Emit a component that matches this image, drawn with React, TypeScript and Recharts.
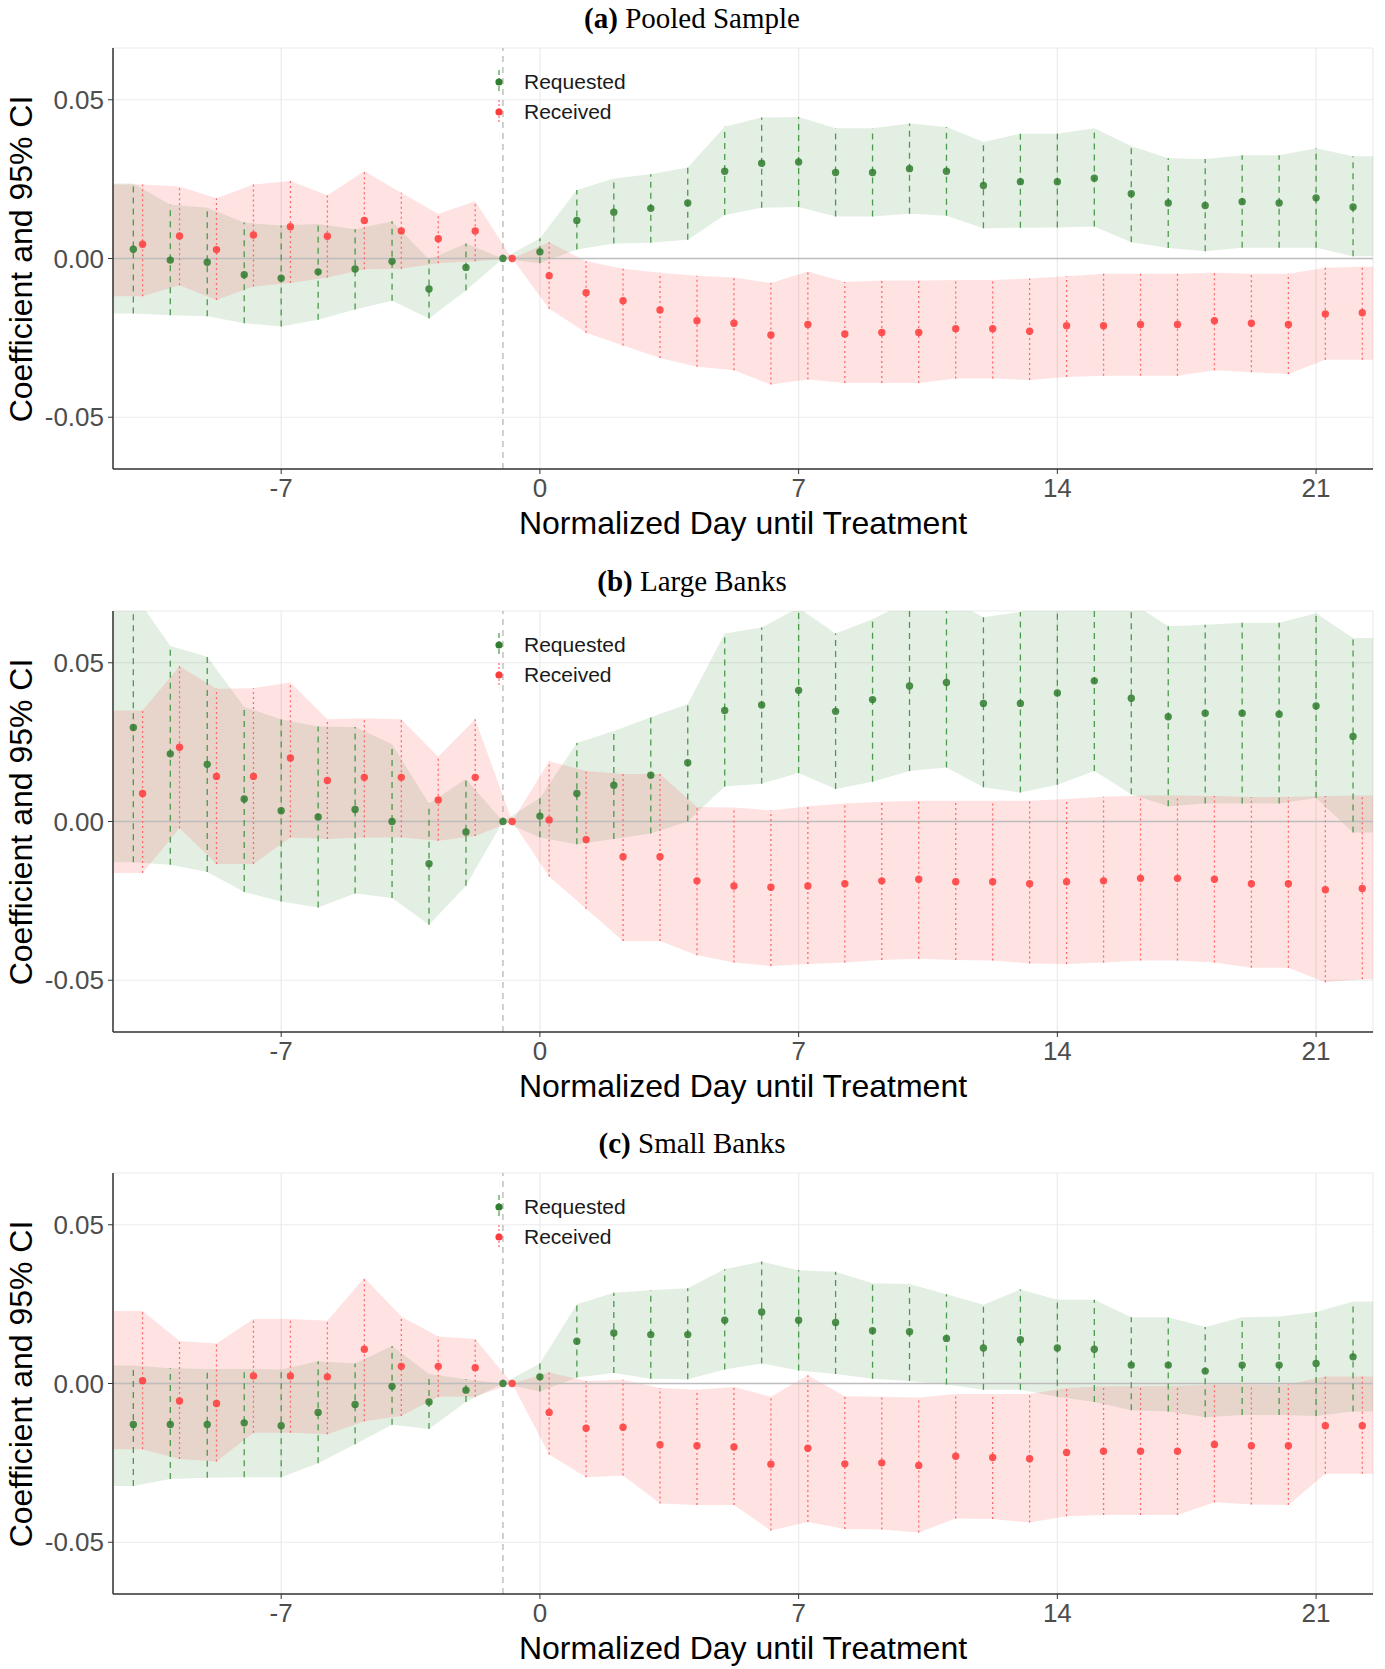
import React from "react";
import {
  ComposedChart,
  Area,
  Scatter,
  XAxis,
  YAxis,
  CartesianGrid,
  ReferenceLine,
} from "recharts";

// days relative to treatment
const days = [
  -11, -10, -9, -8, -7, -6, -5, -4, -3, -2, -1, 0, 1, 2, 3, 4, 5, 6, 7, 8, 9, 10,
  11, 12, 13, 14, 15, 16, 17, 18, 19, 20, 21, 22,
];
const xTicks = [-7, 0, 7, 14, 21];
const yTicks = [-0.05, 0, 0.05];
const seriesNames = ["Requested", "Received"];
const panelTags = ["(a)", "(b)", "(c)"];
const panelTitles = ["Pooled Sample", "Large Banks", "Small Banks"];

// (a) pooled
const reqEstA = [0.0029, -0.0005, -0.0012, -0.0051, -0.0062, -0.0042, -0.0033, -0.0009, -0.0096, -0.0028, 0, 0.0021, 0.012, 0.0146, 0.0158, 0.0175, 0.0275, 0.03, 0.0304, 0.0271, 0.0271, 0.0283, 0.0275, 0.023, 0.0242, 0.0242, 0.0253, 0.0204, 0.0175, 0.0167, 0.0179, 0.0175, 0.0191, 0.0162];
const reqHiA = [0.0236, 0.0169, 0.016, 0.0113, 0.0104, 0.0109, 0.0092, 0.0117, -0.0003, 0.0047, 0, 0.0064, 0.0216, 0.0252, 0.0265, 0.0287, 0.0415, 0.0444, 0.0446, 0.041, 0.041, 0.0425, 0.0414, 0.0367, 0.0393, 0.0393, 0.041, 0.0354, 0.0316, 0.0313, 0.0325, 0.0325, 0.0347, 0.0322];
const reqLoA = [-0.0173, -0.0179, -0.0182, -0.0204, -0.0214, -0.0193, -0.0161, -0.0133, -0.0189, -0.0101, 0, -0.0015, 0.0028, 0.0047, 0.005, 0.0059, 0.0137, 0.016, 0.0162, 0.0132, 0.0132, 0.0141, 0.0135, 0.0095, 0.0097, 0.0098, 0.0101, 0.0051, 0.0033, 0.0023, 0.0034, 0.0034, 0.0034, 0.0007];
const recEstA = [0.0045, 0.0071, 0.0028, 0.0074, 0.01, 0.007, 0.012, 0.0087, 0.0062, 0.0087, 0, -0.0054, -0.0108, -0.0133, -0.0162, -0.0196, -0.0204, -0.0241, -0.0208, -0.0238, -0.0233, -0.0233, -0.0221, -0.0221, -0.0229, -0.0212, -0.0212, -0.0208, -0.0208, -0.0196, -0.0204, -0.0208, -0.0175, -0.0171];
const recHiA = [0.0233, 0.0227, 0.019, 0.0233, 0.0244, 0.0199, 0.0275, 0.0207, 0.014, 0.018, 0, 0.0051, -0.0009, -0.0032, -0.0045, -0.0054, -0.006, -0.0077, -0.0041, -0.0074, -0.0069, -0.0069, -0.0068, -0.0068, -0.0063, -0.0056, -0.0048, -0.0048, -0.0048, -0.0045, -0.0048, -0.0048, -0.0029, -0.0026];
const recLoA = [-0.0119, -0.0084, -0.0131, -0.0088, -0.0077, -0.006, -0.0034, -0.0032, -0.0015, -0.0009, 0, -0.0158, -0.0234, -0.0274, -0.0313, -0.0341, -0.0352, -0.0397, -0.0381, -0.0392, -0.0392, -0.0392, -0.0378, -0.0378, -0.0383, -0.0373, -0.0369, -0.0369, -0.0369, -0.0352, -0.0358, -0.0364, -0.0319, -0.0319];

// (b) large banks
const reqEstB = [0.0296, 0.0213, 0.018, 0.0071, 0.0034, 0.0014, 0.0038, 0.0, -0.0133, -0.0033, 0, 0.0017, 0.0088, 0.0114, 0.0146, 0.0185, 0.035, 0.0367, 0.0413, 0.0347, 0.0384, 0.0427, 0.0438, 0.0372, 0.0372, 0.0405, 0.0443, 0.0388, 0.033, 0.0341, 0.0341, 0.0338, 0.0364, 0.0268];
const reqHiB = [0.072, 0.0553, 0.0519, 0.0361, 0.0322, 0.0299, 0.0298, 0.0243, 0.0057, 0.0134, 0, 0.0074, 0.0247, 0.0285, 0.0328, 0.037, 0.0592, 0.0611, 0.0673, 0.0592, 0.0637, 0.0695, 0.0706, 0.0643, 0.066, 0.0694, 0.0727, 0.069, 0.0615, 0.062, 0.0626, 0.0626, 0.0656, 0.0578];
const reqLoB = [-0.0128, -0.0136, -0.0159, -0.0222, -0.0252, -0.0271, -0.0227, -0.0241, -0.0325, -0.0202, 0, -0.005, -0.0072, -0.0055, -0.0038, 0.0, 0.011, 0.0119, 0.0153, 0.0102, 0.0125, 0.0159, 0.017, 0.0108, 0.0091, 0.0116, 0.0159, 0.0086, 0.0048, 0.0057, 0.0057, 0.0057, 0.0074, -0.0035];
const recEstB = [0.0088, 0.0234, 0.0142, 0.0142, 0.02, 0.0129, 0.0139, 0.0139, 0.0068, 0.0139, 0, 0.0005, -0.0057, -0.0111, -0.0111, -0.0187, -0.0203, -0.0207, -0.0203, -0.0196, -0.0187, -0.0182, -0.019, -0.019, -0.0196, -0.019, -0.0187, -0.0179, -0.0179, -0.0182, -0.0196, -0.0196, -0.0215, -0.0211];
const recHiB = [0.035, 0.0489, 0.0418, 0.042, 0.0438, 0.0322, 0.0325, 0.0322, 0.0204, 0.0322, 0, 0.019, 0.0159, 0.015, 0.015, 0.0046, 0.0044, 0.0035, 0.0048, 0.0057, 0.0062, 0.0065, 0.0065, 0.0065, 0.0065, 0.0071, 0.0078, 0.0082, 0.0082, 0.008, 0.0077, 0.0077, 0.008, 0.0082];
const recLoB = [-0.0162, -0.0021, -0.0134, -0.0134, -0.005, -0.0055, -0.005, -0.005, -0.0061, -0.0046, 0, -0.0173, -0.0275, -0.0376, -0.0376, -0.0421, -0.0444, -0.0455, -0.0449, -0.0444, -0.0436, -0.0432, -0.0436, -0.0438, -0.0447, -0.0449, -0.0444, -0.0438, -0.0438, -0.0444, -0.0461, -0.0461, -0.0506, -0.0497];

// (c) small banks
const reqEstC = [-0.0129, -0.0129, -0.0129, -0.0124, -0.0133, -0.0091, -0.0066, -0.0009, -0.0058, -0.0021, 0, 0.0021, 0.0133, 0.0159, 0.0154, 0.0154, 0.0199, 0.0225, 0.0199, 0.0192, 0.0166, 0.0163, 0.0142, 0.0112, 0.0138, 0.0112, 0.0108, 0.0058, 0.0058, 0.0039, 0.0058, 0.0058, 0.0063, 0.0084];
const reqHiC = [0.0057, 0.0048, 0.0046, 0.0046, 0.0044, 0.007, 0.0063, 0.0118, 0.003, 0.0013, 0, 0.0063, 0.025, 0.0286, 0.0294, 0.03, 0.036, 0.0384, 0.0357, 0.0352, 0.0316, 0.0313, 0.0281, 0.0248, 0.0296, 0.0264, 0.0264, 0.0209, 0.0209, 0.0178, 0.0209, 0.0211, 0.0225, 0.0258];
const reqLoC = [-0.0323, -0.0301, -0.0297, -0.0295, -0.0295, -0.0251, -0.0191, -0.013, -0.0143, -0.0058, 0, -0.0025, 0.0019, 0.0033, 0.0015, 0.0013, 0.0044, 0.0063, 0.0041, 0.003, 0.0015, 0.0008, -0.0003, -0.002, -0.002, -0.0042, -0.0058, -0.0084, -0.0088, -0.0106, -0.0099, -0.0099, -0.0102, -0.0088];
const recEstC = [0.0009, -0.0055, -0.0063, 0.0024, 0.0024, 0.0021, 0.0108, 0.0054, 0.0054, 0.005, 0, -0.0091, -0.0141, -0.0138, -0.0193, -0.0196, -0.02, -0.0254, -0.0204, -0.0253, -0.025, -0.0258, -0.0229, -0.0233, -0.0237, -0.0217, -0.0213, -0.0213, -0.0213, -0.0192, -0.0196, -0.0196, -0.0133, -0.0133];
const recHiC = [0.0228, 0.0134, 0.0126, 0.0203, 0.0203, 0.0198, 0.0333, 0.0211, 0.0148, 0.014, 0, 0.0035, 0.0008, 0.0012, -0.0014, -0.002, -0.0011, -0.0042, 0.0026, -0.004, -0.0042, -0.0044, -0.0033, -0.0033, -0.0033, -0.0014, -0.0009, -0.0009, -0.0007, -0.0003, -0.0003, -0.0003, 0.0022, 0.0022];
const recLoC = [-0.0207, -0.0238, -0.0246, -0.0155, -0.0155, -0.016, -0.0119, -0.0102, -0.0042, -0.0042, 0, -0.0224, -0.0295, -0.029, -0.0378, -0.0383, -0.0383, -0.0463, -0.0436, -0.0458, -0.046, -0.0469, -0.0425, -0.0427, -0.0438, -0.0418, -0.0414, -0.0414, -0.0414, -0.0374, -0.0381, -0.0383, -0.0284, -0.0284];

const X_MIN = -11.55;
const X_MAX = 22.54;
const Y_LIM = 0.0663;
const DODGE = 0.25; // received points sit a quarter day right

const W = 1385;
const Y_AXIS_W = 113;
const RIGHT = 12;
const PLOT_H = 421;
const X_AXIS_H = 80;
const M_TOP = 10;
const PANEL_TOPS = [48, 611, 1173];

const GREEN = "#2f7d2f";
const GREEN_BAR = "#4c9a4c";
const GREEN_FILL = "#1f7a1f";
const RED = "#ff3a3a";
const RED_BAR = "#ff6a6a";
const RED_FILL = "#ff1a1a";
const SANS = '"Liberation Sans", Arial, sans-serif';
const SERIF = '"Liberation Serif", "Times New Roman", serif';

type Row = { x: number; est: number; band: [number, number] };

function buildRows(offset: number, est: number[], lo: number[], hi: number[]): Row[] {
  return days.map((d, i) => ({ x: d + offset, est: est[i], band: [lo[i], hi[i]] }));
}

// ribbons run out to the panel edges
function ribbon(rows: Row[]) {
  const first = rows[0];
  const last = rows[rows.length - 1];
  return [{ x: X_MIN, band: first.band }, ...rows, { x: X_MAX, band: last.band }];
}

function dot(fill: string) {
  return (p: any) => <circle cx={p.cx} cy={p.cy} r={3.7} fill={fill} fillOpacity={0.85} />;
}

type PanelProps = {
  idx: number;
  reqEst: number[];
  reqLo: number[];
  reqHi: number[];
  recEst: number[];
  recLo: number[];
  recHi: number[];
};

function Panel({ idx, reqEst, reqLo, reqHi, recEst, recLo, recHi }: PanelProps) {
  const top = PANEL_TOPS[idx];
  const req = buildRows(0, reqEst, reqLo, reqHi);
  const rec = buildRows(DODGE, recEst, recLo, recHi);
  const plotCenterX = (Y_AXIS_W + W - RIGHT) / 2;

  return (
    <>
      <div
        style={{
          position: "absolute",
          left: 692,
          top: top - 30.5,
          transform: "translate(-50%, -50%)",
          fontFamily: SERIF,
          fontSize: 29,
          whiteSpace: "nowrap",
          color: "#000",
        }}
      >
        <b>{panelTags[idx]}</b> {panelTitles[idx]}
      </div>

      <div style={{ position: "absolute", left: 0, top: top - M_TOP }}>
        <ComposedChart
          width={W}
          height={M_TOP + PLOT_H + X_AXIS_H}
          margin={{ top: M_TOP, right: RIGHT, bottom: 0, left: 0 }}
        >
          <CartesianGrid stroke="#ebebeb" strokeWidth={1.2} />
          <XAxis
            type="number"
            dataKey="x"
            domain={[X_MIN, X_MAX]}
            ticks={xTicks}
            allowDataOverflow
            height={X_AXIS_H}
            tickSize={5}
            tickMargin={5}
            tick={{ fontSize: 26, fill: "#4d4d4d", fontFamily: SANS }}
            axisLine={{ stroke: "#333", strokeWidth: 1.5 }}
            tickLine={{ stroke: "#333" }}
          />
          <YAxis
            type="number"
            dataKey="est"
            domain={[-Y_LIM, Y_LIM]}
            ticks={yTicks}
            allowDataOverflow
            width={Y_AXIS_W}
            tickSize={5}
            tickMargin={4}
            tickFormatter={(v: number) => v.toFixed(2)}
            tick={{ fontSize: 26, fill: "#4d4d4d", fontFamily: SANS }}
            axisLine={{ stroke: "#333", strokeWidth: 1.5 }}
            tickLine={{ stroke: "#333" }}
          />
          <Area
            data={ribbon(req)}
            dataKey="band"
            type="linear"
            stroke="none"
            fill={GREEN_FILL}
            fillOpacity={0.12}
            dot={false}
            activeDot={false}
            isAnimationActive={false}
          />
          <Area
            data={ribbon(rec)}
            dataKey="band"
            type="linear"
            stroke="none"
            fill={RED_FILL}
            fillOpacity={0.12}
            dot={false}
            activeDot={false}
            isAnimationActive={false}
          />
          <ReferenceLine y={0} stroke="#bdbdbd" strokeWidth={1.6} />
          <ReferenceLine x={-1} stroke="#b0b0b0" strokeWidth={1.2} strokeDasharray="6 5" />
          {req.map((r) => (
            <ReferenceLine
              key={"g" + r.x}
              segment={[
                { x: r.x, y: r.band[0] },
                { x: r.x, y: r.band[1] },
              ]}
              stroke={GREEN_BAR}
              strokeWidth={1.3}
              strokeDasharray="6 5"
              ifOverflow="hidden"
            />
          ))}
          {rec.map((r) => (
            <ReferenceLine
              key={"r" + r.x}
              segment={[
                { x: r.x, y: r.band[0] },
                { x: r.x, y: r.band[1] },
              ]}
              stroke={RED_BAR}
              strokeWidth={1.3}
              strokeDasharray="2 3"
              ifOverflow="hidden"
            />
          ))}
          <Scatter data={req} dataKey="est" shape={dot(GREEN)} isAnimationActive={false} />
          <Scatter data={rec} dataKey="est" shape={dot(RED)} isAnimationActive={false} />
        </ComposedChart>
      </div>

      {/* legend */}
      {seriesNames.map((name, i) => {
        const cy = top + (i === 0 ? 33.5 : 64);
        const color = i === 0 ? GREEN : RED;
        return (
          <React.Fragment key={name}>
            <svg
              width={12}
              height={28}
              style={{ position: "absolute", left: 493, top: cy - 14 }}
            >
              <line
                x1={6}
                x2={6}
                y1={2}
                y2={26}
                stroke={i === 0 ? GREEN_BAR : RED_BAR}
                strokeWidth={1.2}
                strokeDasharray={i === 0 ? "5 3" : "2 2"}
              />
              <circle cx={6} cy={14} r={3.6} fill={color} />
            </svg>
            <div
              style={{
                position: "absolute",
                left: 524,
                top: cy,
                transform: "translateY(-50%)",
                fontFamily: SANS,
                fontSize: 21,
                color: "#1a1a1a",
                whiteSpace: "nowrap",
              }}
            >
              {name}
            </div>
          </React.Fragment>
        );
      })}

      {/* axis titles */}
      <div
        style={{
          position: "absolute",
          left: 21,
          top: top + PLOT_H / 2,
          transform: "translate(-50%, -50%) rotate(-90deg)",
          fontFamily: SANS,
          fontSize: 32,
          color: "#000",
          whiteSpace: "nowrap",
        }}
      >
        Coefficient and 95% CI
      </div>
      <div
        style={{
          position: "absolute",
          left: plotCenterX,
          top: top + PLOT_H + 54,
          transform: "translate(-50%, -50%)",
          fontFamily: SANS,
          fontSize: 32,
          color: "#000",
          whiteSpace: "nowrap",
        }}
      >
        Normalized Day until Treatment
      </div>
    </>
  );
}

export default function App() {
  return (
    <div
      style={{
        position: "absolute",
        left: 0,
        top: 0,
        width: W,
        height: 1669,
        background: "#fff",
        overflow: "hidden",
      }}
    >
      <Panel idx={0} reqEst={reqEstA} reqLo={reqLoA} reqHi={reqHiA} recEst={recEstA} recLo={recLoA} recHi={recHiA} />
      <Panel idx={1} reqEst={reqEstB} reqLo={reqLoB} reqHi={reqHiB} recEst={recEstB} recLo={recLoB} recHi={recHiB} />
      <Panel idx={2} reqEst={reqEstC} reqLo={reqLoC} reqHi={reqHiC} recEst={recEstC} recLo={recLoC} recHi={recHiC} />
    </div>
  );
}
